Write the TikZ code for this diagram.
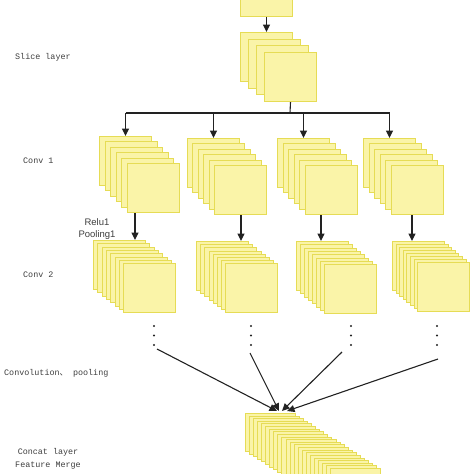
\documentclass[tikz,border=0pt]{standalone}
\usepackage{fontspec}
\setmainfont{Liberation Serif}
\newfontfamily\monof{Liberation Mono}
\newfontfamily\sansf{Liberation Sans}
\newfontfamily\cjkf{Noto Sans CJK SC}
\usetikzlibrary{arrows.meta}
\definecolor{mapfill}{HTML}{FAF4A8}
\definecolor{mapedge}{HTML}{E6DC55}
\definecolor{labgray}{HTML}{3E3E3E}
\definecolor{arrgray}{HTML}{222222}
\tikzset{
  fmap/.style={draw=mapedge, fill=mapfill, line width=1pt, inner sep=0pt,
    anchor=north west, minimum width=52pt, minimum height=49pt},
  cmap/.style={fmap, minimum width=50pt, minimum height=38pt},
  conn/.style={draw=arrgray, line width=1.1pt},
  arr/.style={conn, -{Triangle[length=7.5pt,width=7pt]}},
  lab/.style={text=labgray, font=\monof\fontsize{8.4}{10}\selectfont, inner sep=0pt, anchor=west},
  dot/.style={circle, fill=arrgray, inner sep=0pt, minimum size=2.4pt}
}
\newcommand\mkstack[7]{% name, x, y, n, dx, dy, style
  \foreach \i in {1,...,#4} {
    \node[#7] (#1-\i) at ({#2+(\i-1)*#5},{#3+(\i-1)*#6}) {};
  }
}
\begin{document}
\begin{tikzpicture}[x=1pt,y=-1pt]
\useasboundingbox (0,0) rectangle (474,474);
\clip (0,0) rectangle (474,474);
% top box
\node[fmap, minimum height=28pt] (topbox) at (240,-12) {};
% slice stack
\mkstack{sl}{240}{32}{4}{8}{6.7}{fmap}
% conv1 stacks
\mkstack{ca}{99}{136}{6}{5.6}{5.4}{fmap}
\mkstack{cb}{187}{138}{6}{5.4}{5.4}{fmap}
\mkstack{cc}{277}{138}{6}{5.6}{5.4}{fmap}
\mkstack{cd}{363}{138}{6}{5.6}{5.4}{fmap}
% conv2 stacks
\mkstack{da}{93}{240}{8}{4.3}{3.3}{fmap}
\mkstack{db}{196}{241}{8}{4.2}{3.2}{fmap}
\mkstack{dc}{296}{241}{8}{4.0}{3.3}{fmap}
\mkstack{dd}{392}{241}{8}{3.6}{3.0}{fmap}
% concat stack
\mkstack{cat}{245}{413}{22}{4.05}{2.62}{cmap}
% labels
\node[lab] (l1) at (15,57) {Slice layer};
\node[lab] (l2) at (23,161) {Conv 1};
\node[lab] (l3) at (23,275) {Conv 2};
\node[lab] (l4) at (4,373) {Convolution{\cjkf 、} pooling};
\node[lab, anchor=center, align=center, font=\monof\fontsize{8.4}{12.5}\selectfont] (l5) at (48,459) {Concat layer\\Feature Merge};
\node[text=labgray, font=\sansf\fontsize{9.5}{11.5}\selectfont, align=center, inner sep=0pt] (relu) at (97,229) {Relu1\\Pooling1};
% top arrow
\draw[arr] (topbox.south) -- (sl-1.north);
% bus
\coordinate (busm) at (290,113);
\draw[conn] (sl-4.south) -- (busm);
\draw[conn] (ca-1.north |- busm) -- (cd-1.north |- busm);
\foreach \s in {ca,cb,cc,cd} {
  \draw[arr] (\s-1.north |- busm) -- (\s-1.north);
}
% conv1 -> conv2
\coordinate (xa) at (135,0);
\coordinate (xb) at (241,0);
\coordinate (xc) at (321,0);
\coordinate (xd) at (412,0);
\draw[arr] (ca-6.south -| xa) -- (da-1.north -| xa);
\draw[arr] (cb-6.south -| xb) -- (db-1.north -| xb);
\draw[arr] (cc-6.south -| xc) -- (dc-1.north -| xc);
\draw[arr] (cd-6.south -| xd) -- (dd-1.north -| xd);
% dots
\foreach \x/\n in {154/a,251/b,351/c,437/d} {
  \node[dot] (dot\n1) at (\x,326) {};
  \node[dot] (dot\n2) at (\x,335.5) {};
  \node[dot] (dot\n3) at (\x,345) {};
}
% lines to concat
\coordinate (sa) at (157,349);
\coordinate (sb) at (250,353);
\coordinate (sc) at (342,352);
\coordinate (sd) at (438,359);
\coordinate (ea) at (277,411);
\coordinate (eb) at (279,411);
\coordinate (ec) at (282,411);
\coordinate (ed) at (287,411);
\draw[arr] (sa) -- (ea);
\draw[arr] (sb) -- (eb);
\draw[arr] (sc) -- (ec);
\draw[arr] (sd) -- (ed);
\end{tikzpicture}
\end{document}
